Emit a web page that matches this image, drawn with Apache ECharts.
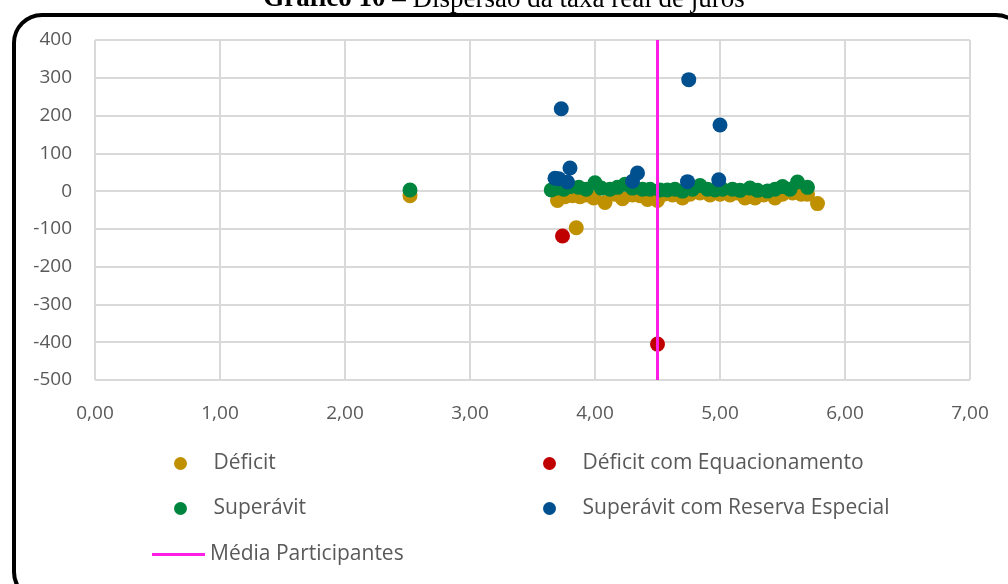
<!DOCTYPE html>
<html>
<head>
<meta charset="utf-8">
<script src="https://cdn.jsdelivr.net/npm/echarts@6/dist/echarts.min.js"></script>
<style>
  html, body { margin: 0; padding: 0; background: #fff; }
  #chart { width: 1008px; height: 584px; }
</style>
</head>
<body>
<div id="chart"></div>
<script>
// taxa real de juros (x) x resultado (y)
const xTicks = [0, 1, 2, 3, 4, 5, 6, 7];
const yTicks = [-500, -400, -300, -200, -100, 0, 100, 200, 300, 400];

const deficit = [
  [2.52, -12], [3.70, -25], [3.76, -15], [3.82, -12], [3.88, -15], [3.93, -10],
  [3.99, -18], [4.08, -30], [4.16, -8], [4.22, -20], [4.30, -10], [4.36, -12],
  [4.42, -22], [4.50, -25], [4.55, -8], [4.62, -10], [4.70, -18], [4.76, -8],
  [4.84, -5], [4.92, -10], [5.00, -8], [5.08, -10], [5.14, -5], [5.20, -18],
  [5.28, -18], [5.35, -10], [5.44, -18], [5.50, -8], [5.58, -5], [5.65, -8],
  [5.70, -8], [5.78, -33], [3.85, -97]
];
const deficitEq = [[3.74, -119], [4.50, -405]];
const superavit = [
  [2.52, 3], [3.65, 3], [3.70, 8], [3.75, 5], [3.80, 12], [3.87, 10], [3.93, 5],
  [4.00, 22], [4.05, 8], [4.12, 5], [4.18, 10], [4.24, 18], [4.30, 8], [4.38, 5],
  [4.44, 5], [4.52, 3], [4.58, 3], [4.64, 5], [4.70, 0], [4.78, 5], [4.84, 15],
  [4.90, 5], [4.96, 3], [5.02, 5], [5.10, 5], [5.16, 2], [5.24, 8], [5.30, 2],
  [5.38, 0], [5.44, 5], [5.50, 12], [5.56, 5], [5.62, 24], [5.70, 10]
];
const superavitRes = [
  [3.73, 218], [4.75, 295], [5.00, 175], [3.80, 61], [3.68, 34], [3.71, 33],
  [3.78, 24], [4.34, 48], [4.30, 26], [4.74, 25], [4.99, 30]
];
const mediaX = 4.50;

const textColor = '#595959';
const font = 'Open Sans';

const chart = echarts.init(document.getElementById('chart'));

function legendAt(name, left, top, icon, h) {
  return {
    data: [{ name: name, icon: icon }],
    left: left,
    top: top,
    orient: 'horizontal',
    itemWidth: icon === 'rect' ? 53 : 56,
    itemHeight: h,
    itemGap: 0,
    textStyle: { color: textColor, fontFamily: font, fontSize: 21 },
    selectedMode: false,
  };
}

const option = {
  animation: false,
  backgroundColor: '#fff',
  grid: { left: 95, right: 38, top: 40, bottom: 204 },
  xAxis: {
    type: 'value',
    min: xTicks[0],
    max: xTicks[xTicks.length - 1],
    interval: 1,
    axisLine: { show: false },
    axisTick: { show: false },
    splitLine: { lineStyle: { color: '#D9D9D9', width: 2 } },
    axisLabel: {
      color: textColor,
      fontFamily: font,
      fontSize: 19,
      margin: 24,
      formatter: (v) => v.toFixed(2).replace('.', ','),
    },
  },
  yAxis: {
    type: 'value',
    min: yTicks[0],
    max: yTicks[yTicks.length - 1],
    interval: 100,
    axisLine: { show: false },
    axisTick: { show: false },
    splitLine: { lineStyle: { color: '#D9D9D9', width: 2 } },
    axisLabel: { color: textColor, fontFamily: font, fontSize: 19, margin: 23 },
  },
  legend: [
    legendAt('Déficit', 169, 448, 'circle', 13),
    legendAt('Déficit com Equacionamento', 538, 448, 'circle', 13),
    legendAt('Superávit', 169, 493, 'circle', 13),
    legendAt('Superávit com Reserva Especial', 538, 493, 'circle', 13),
    legendAt('Média Participantes', 147, 539, 'rect', 3),
  ],
  graphic: [
    {
      type: 'rect',
      shape: { x: 14, y: 15, width: 1010, height: 585, r: 28 },
      style: { fill: 'none', stroke: '#000', lineWidth: 4 },
      silent: true,
    },
    {
      type: 'text',
      left: 'center',
      top: -14,
      style: {
        text: '{b|Gráfico 10} – Dispersão da taxa real de juros',
        font: '27px "Liberation Serif"',
        fill: '#000',
        rich: { b: { fontWeight: 'bold', fontFamily: 'Liberation Serif', fontSize: 27 } },
      },
    },
  ],
  series: [
    { name: 'Déficit', type: 'scatter', data: deficit, symbolSize: 15, itemStyle: { color: '#BF9000', opacity: 1 } },
    { name: 'Déficit com Equacionamento', type: 'scatter', data: deficitEq, symbolSize: 15, itemStyle: { color: '#C00000', opacity: 1 } },
    { name: 'Superávit', type: 'scatter', data: superavit, symbolSize: 15, itemStyle: { color: '#00853E', opacity: 1 } },
    { name: 'Superávit com Reserva Especial', type: 'scatter', data: superavitRes, symbolSize: 15, itemStyle: { color: '#00508F', opacity: 1 } },
    {
      name: 'Média Participantes',
      type: 'line',
      data: [[mediaX, yTicks[0]], [mediaX, yTicks[yTicks.length - 1]]],
      showSymbol: false,
      symbol: 'none',
      lineStyle: { color: '#FF1EE6', width: 3 },
      itemStyle: { color: '#FF1EE6' },
      z: 5,
    },
  ],
};

chart.setOption(option);
</script>
</body>
</html>
